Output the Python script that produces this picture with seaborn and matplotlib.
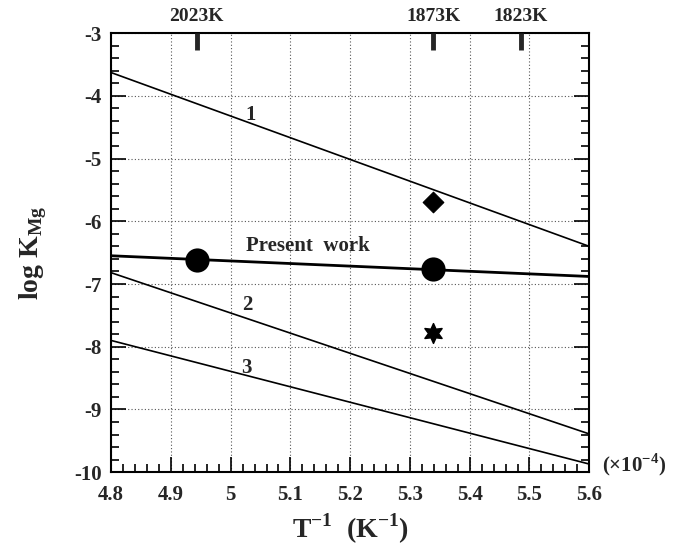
import numpy as np
import pandas as pd
import seaborn as sns
import matplotlib.pyplot as plt
from matplotlib.ticker import MultipleLocator

# end points of the straight lines, x in 1e-4 K^-1
x_ends = [4.8, 5.6]
line_1 = [-3.63, -6.40]
line_2 = [-6.82, -9.39]
line_3 = [-7.90, -9.87]
present = [-6.55, -6.88]

# measured points
pw_x = [4.943, 5.339]
pw_y = [-6.61, -6.76]
diamond_x = [5.339]
diamond_y = [-5.70]
star_x = [5.339]
star_y = [-7.78]

# temperatures marked on top axis
temps = [2023, 1873, 1823]

sns.set_style("ticks")
plt.rcParams['font.family'] = ['Liberation Serif', 'DejaVu Serif']
plt.rcParams['font.weight'] = 'bold'
plt.rcParams['mathtext.fontset'] = 'custom'
plt.rcParams['mathtext.rm'] = 'Liberation Serif:bold'
plt.rcParams['mathtext.bf'] = 'Liberation Serif:bold'

fig = plt.figure(figsize=(6.82, 5.51), dpi=100)
ax = fig.add_axes([0.163, 0.143, 0.701, 0.797])

lines = pd.DataFrame({
    'x': x_ends * 4,
    'y': line_1 + line_2 + line_3 + present,
    'name': ['1'] * 2 + ['2'] * 2 + ['3'] * 2 + ['pw'] * 2,
})
thin = lines[lines['name'] != 'pw']
sns.lineplot(data=thin, x='x', y='y', units='name', estimator=None,
             color='black', linewidth=1.2, ax=ax)
sns.lineplot(x=x_ends, y=present, color='black', linewidth=2.0, ax=ax)

sns.scatterplot(x=pw_x, y=pw_y, color='black', s=260, marker='o',
                edgecolor='black', ax=ax, zorder=5)
sns.scatterplot(x=diamond_x, y=diamond_y, color='black', s=110, marker='D',
                edgecolor='black', ax=ax, zorder=5)
sns.scatterplot(x=star_x, y=star_y, color='black', s=200, marker=(6, 1, 0),
                edgecolor='black', ax=ax, zorder=5)

ax.set_xlim(4.8, 5.6)
ax.set_ylim(-10, -3)
ax.xaxis.set_minor_locator(MultipleLocator(0.02))
ax.yaxis.set_minor_locator(MultipleLocator(0.2))
ax.set_xticks(np.round(np.arange(4.8, 5.61, 0.1), 1))
ax.set_xticklabels(['4.8', '4.9', '5', '5.1', '5.2', '5.3', '5.4', '5.5', '5.6'])
ax.set_yticks(np.arange(-10, -2.9, 1))
ax.set_yticklabels(['-10', '-9', '-8', '-7', '-6', '-5', '-4', '-3'])

ax.tick_params(which='both', direction='in', top=True, right=True,
               labelsize=15, width=1.2, color='black')
ax.tick_params(which='major', length=11)
ax.tick_params(which='minor', length=6)
ax.tick_params(axis='x', pad=9)
ax.tick_params(axis='y', pad=7)
for lab in ax.get_xticklabels() + ax.get_yticklabels():
    lab.set_fontweight('bold')
for sp in ax.spines.values():
    sp.set_linewidth(1.5)
    sp.set_color('black')

ax.grid(True, which='major', linestyle=(0, (1, 2)), color='#555555', linewidth=0.8)

ax.set_xlabel(r'T$^{\mathbf{-1}}$  (K$^{\mathbf{-1}}$)', fontsize=20,
              fontweight='bold', labelpad=5)
ax.set_ylabel(r'log K$_{\mathbf{Mg}}$', fontsize=20, fontweight='bold', labelpad=18)

ax.text(5.033, -4.31, '1', fontsize=15, fontweight='bold', ha='center', va='center')
ax.text(5.13, -6.40, 'Present  work', fontsize=15, fontweight='bold',
        ha='center', va='center')
ax.text(5.028, -7.34, '2', fontsize=15, fontweight='bold', ha='center', va='center')
ax.text(5.026, -8.34, '3', fontsize=15, fontweight='bold', ha='center', va='center')
ax.text(5.622, -9.88, r'($\times$10$^{\mathbf{-4}}$)', fontsize=15,
        fontweight='bold', ha='left', va='center', clip_on=False)

top = ax.twiny()
top.set_xlim(ax.get_xlim())
top.set_xticks([1e4 / t for t in temps])
top.set_xticklabels([f'{t}K' for t in temps], fontsize=14, fontweight='bold')
top.tick_params(axis='x', direction='in', length=12, width=3.5, pad=6)
top.xaxis.set_minor_locator(plt.NullLocator())
for sp in top.spines.values():
    sp.set_visible(False)

fig.savefig('out.png', dpi=100)
